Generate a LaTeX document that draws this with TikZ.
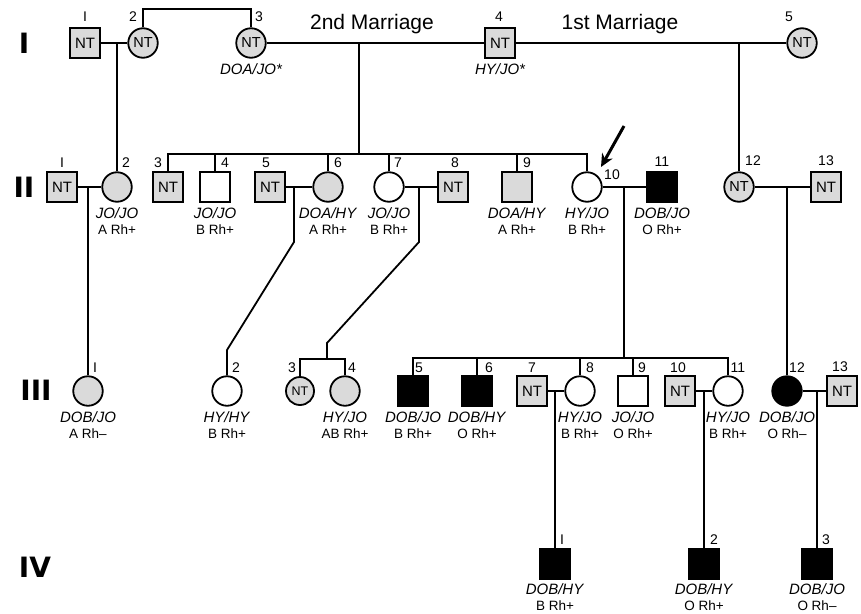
\documentclass[tikz,border=0pt]{standalone}
\usepackage{fontspec}
\setmainfont{Liberation Sans}
\newfontfamily\genfont{DejaVu Sans}
\usetikzlibrary{arrows.meta, positioning}
\definecolor{ntgray}{HTML}{DADADA}
\newcommand{\rh}[1]{{\fontsize{13.5}{16}\selectfont #1}}
\tikzset{
  sq/.style={
    draw, rectangle, line width=1.8pt, fill=#1,
    minimum size=29.5pt, inner sep=0pt,
    font=\fontsize{15}{15}\selectfont
  },
  sq/.default=white,
  ci/.style={
    draw, circle, line width=1.8pt, fill=#1,
    minimum size=29.5pt, inner sep=0pt,
    font=\fontsize{14.5}{14.5}\selectfont
  },
  ci/.default=white,
  ln/.style={line width=1.8pt},
  num/.style={font=\fontsize{14}{14}\selectfont, inner sep=0pt},
  geno/.style={font=\fontsize{15}{16}\selectfont, align=center, inner sep=0pt},
  gen/.style={font=\genfont\bfseries\fontsize{28}{28}\selectfont, inner sep=0pt},
  marr/.style={font=\fontsize{21}{21}\selectfont, inner sep=0pt},
}

\begin{document}
\begin{tikzpicture}[x=1pt, y=-1pt]
  \useasboundingbox (0,0) rectangle (861,613);

  % generations
  \node[gen] (g1) at (24,43) {I};
  \node[gen] (g2) at (24,187) {II};
  \node[gen] (g3) at (36,390) {III};
  \node[gen] (g4) at (35,567) {IV};

  % generation I
  \node[sq=ntgray] (i1) at (85,43) {NT};
  \node[ci=ntgray] (i2) at (143,43) {NT};
  \node[ci=ntgray] (i3) at (251,43) {NT};
  \node[sq=ntgray] (i4) at (500,43) {NT};
  \node[ci=ntgray] (i5) at (802,43) {NT};
  \node[num] (n-i1) at (85,17) {I};
  \node[num] (n-i2) at (133,17) {2};
  \node[num] (n-i3) at (259,17) {3};
  \node[num] (n-i4) at (499,17) {4};
  \node[num] (n-i5) at (789,17) {5};
  \node[geno, below=4.5pt of i3] (t-i3) {\itshape DOA/JO*};
  \node[geno, below=4.5pt of i4] (t-i4) {\itshape HY/JO*};
  \node[marr] (mar2) at (372,24) {2nd Marriage};
  \node[marr] (mar1) at (620,24) {1st Marriage};

  % generation II
  \node[sq=ntgray] (ii1) at (62,187) {NT};
  \node[ci=ntgray] (ii2) at (117,187) {};
  \node[sq=ntgray] (ii3) at (168,187) {NT};
  \node[sq] (ii4) at (215,187) {};
  \node[sq=ntgray] (ii5) at (270,187) {NT};
  \node[ci=ntgray] (ii6) at (328,187) {};
  \node[ci] (ii7) at (389,187) {};
  \node[sq=ntgray] (ii8) at (453,187) {NT};
  \node[sq=ntgray] (ii9) at (517,187) {};
  \node[ci] (ii10) at (587,187) {};
  \node[sq=black] (ii11) at (662,187) {};
  \node[ci=ntgray] (ii12) at (739,187) {NT};
  \node[sq=ntgray] (ii13) at (826,187) {NT};
  \node[num] (n-ii1) at (62,163) {I};
  \node[num] (n-ii2) at (126,163) {2};
  \node[num] (n-ii3) at (158,163) {3};
  \node[num] (n-ii4) at (225,163) {4};
  \node[num] (n-ii5) at (266,163) {5};
  \node[num] (n-ii6) at (338,163) {6};
  \node[num] (n-ii7) at (398,163) {7};
  \node[num] (n-ii8) at (455,163) {8};
  \node[num] (n-ii9) at (527,163) {9};
  \node[num] (n-ii10) at (612,175) {10};
  \node[num] (n-ii11) at (662,162) {11};
  \node[num] (n-ii12) at (753,161) {12};
  \node[num] (n-ii13) at (826,161) {13};
  \node[geno, below=4.5pt of ii2] (t-ii2) {\textit{JO/JO}\\\rh{A Rh+}};
  \node[geno, below=4.5pt of ii4] (t-ii4) {\textit{JO/JO}\\\rh{B Rh+}};
  \node[geno, below=4.5pt of ii6] (t-ii6) {\textit{DOA/HY}\\\rh{A Rh+}};
  \node[geno, below=4.5pt of ii7] (t-ii7) {\textit{JO/JO}\\\rh{B Rh+}};
  \node[geno, below=4.5pt of ii9] (t-ii9) {\textit{DOA/HY}\\\rh{A Rh+}};
  \node[geno, below=4.5pt of ii10] (t-ii10) {\textit{HY/JO}\\\rh{B Rh+}};
  \node[geno, below=4.5pt of ii11] (t-ii11) {\textit{DOB/JO}\\\rh{O Rh+}};

  % generation III
  \node[ci=ntgray] (iii1) at (88,391) {};
  \node[ci] (iii2) at (227,391) {};
  \node[ci=ntgray, minimum size=28pt, font=\fontsize{12.5}{12.5}\selectfont] (iii3) at (300,391) {NT};
  \node[ci=ntgray] (iii4) at (345,391) {};
  \node[sq=black] (iii5) at (413,391) {};
  \node[sq=black] (iii6) at (477,391) {};
  \node[sq=ntgray] (iii7) at (532,391) {NT};
  \node[ci] (iii8) at (580,391) {};
  \node[sq] (iii9) at (633,391) {};
  \node[sq=ntgray] (iii10) at (680,391) {NT};
  \node[ci] (iii11) at (728,391) {};
  \node[ci=black] (iii12) at (787,391) {};
  \node[sq=ntgray] (iii13) at (842,391) {NT};
  \node[num] (n-iii1) at (95,368) {I};
  \node[num] (n-iii2) at (236,368) {2};
  \node[num] (n-iii3) at (292,368) {3};
  \node[num] (n-iii4) at (352,368) {4};
  \node[num] (n-iii5) at (419,368) {5};
  \node[num] (n-iii6) at (489,368) {6};
  \node[num] (n-iii7) at (532,368) {7};
  \node[num] (n-iii8) at (590,368) {8};
  \node[num] (n-iii9) at (642,368) {9};
  \node[num] (n-iii10) at (678,368) {10};
  \node[num] (n-iii11) at (738,368) {11};
  \node[num] (n-iii12) at (797,368) {12};
  \node[num] (n-iii13) at (840,367) {13};
  \node[geno, below=4.5pt of iii1] (t-iii1) {\textit{DOB/JO}\\\rh{A Rh–}};
  \node[geno, below=4.5pt of iii2] (t-iii2) {\textit{HY/HY}\\\rh{B Rh+}};
  \node[geno, below=4.5pt of iii4] (t-iii4) {\textit{HY/JO}\\\rh{AB Rh+}};
  \node[geno, below=4.5pt of iii5] (t-iii5) {\textit{DOB/JO}\\\rh{B Rh+}};
  \node[geno, below=4.5pt of iii6] (t-iii6) {\textit{DOB/HY}\\\rh{O Rh+}};
  \node[geno, below=4.5pt of iii8] (t-iii8) {\textit{HY/JO}\\\rh{B Rh+}};
  \node[geno, below=4.5pt of iii9] (t-iii9) {\textit{JO/JO}\\\rh{O Rh+}};
  \node[geno, below=4.5pt of iii11] (t-iii11) {\textit{HY/JO}\\\rh{B Rh+}};
  \node[geno, below=4.5pt of iii12] (t-iii12) {\textit{DOB/JO}\\\rh{O Rh–}};

  % generation IV
  \node[sq=black] (iv1) at (555,564) {};
  \node[sq=black] (iv2) at (704,564) {};
  \node[sq=black] (iv3) at (817,564) {};
  \node[num] (n-iv1) at (562,540) {I};
  \node[num] (n-iv2) at (714,540) {2};
  \node[num] (n-iv3) at (826,540) {3};
  \node[geno, below=4pt of iv1] (t-iv1) {\textit{DOB/HY}\\\rh{B Rh+}};
  \node[geno, below=4pt of iv2] (t-iv2) {\textit{DOB/HY}\\\rh{O Rh+}};
  \node[geno, below=4pt of iv3] (t-iv3) {\textit{DOB/JO}\\\rh{O Rh–}};

  % couples and descent lines
  \coordinate (m-i12) at (117,43);
  \coordinate (m-i34) at (359,43);
  \coordinate (m-i45) at (739,43);
  \coordinate (sib2) at (359,154);
  \coordinate (m-ii12) at (88,187);
  \coordinate (m-ii56) at (294,187);
  \coordinate (k-ii56) at (294,242);
  \coordinate (k-iii2) at (227,350);
  \coordinate (m-ii78) at (419,187);
  \coordinate (k-ii78) at (419,242);
  \coordinate (k-tw) at (327,343);
  \coordinate (tw) at (327,359);
  \coordinate (m-ii1011) at (624,187);
  \coordinate (sib3) at (624,358);
  \coordinate (m-ii1213) at (787,187);
  \coordinate (m-iii78) at (555,391);
  \coordinate (m-iii1011) at (704,391);
  \coordinate (m-iii1213) at (817,391);
  \coordinate (proband) at (601,167);

  \draw[ln] (i1) -- (i2);
  \draw[ln] (i2.north) -- ++(0,-18) -| (i3.north);
  \draw[ln] (i3) -- (i4);
  \draw[ln] (i4) -- (i5);
  \draw[ln] (m-i12) -- (ii2);
  \draw[ln] (m-i34) -- (sib2);
  \draw[ln] (m-i45) -- (ii12);
  \draw[ln] (ii3.north) |- (sib2) -| (ii10.north);
  \draw[ln] (ii4.north) -- (ii4.north |- sib2);
  \draw[ln] (ii6.north) -- (ii6.north |- sib2);
  \draw[ln] (ii7.north) -- (ii7.north |- sib2);
  \draw[ln] (ii9.north) -- (ii9.north |- sib2);

  \draw[ln] (ii1) -- (ii2);
  \draw[ln] (ii5) -- (ii6);
  \draw[ln] (ii7) -- (ii8);
  \draw[ln] (ii10) -- (ii11);
  \draw[ln] (ii12) -- (ii13);
  \draw[ln] (m-ii12) -- (iii1);
  \draw[ln] (m-ii56) -- (k-ii56) -- (k-iii2) -- (iii2);
  \draw[ln] (m-ii78) -- (k-ii78) -- (k-tw) -- (tw);
  \draw[ln] (iii3.north) |- (tw) -| (iii4.north);
  \draw[ln] (m-ii1011) -- (sib3);
  \draw[ln] (iii5.north) |- (sib3) -| (iii11.north);
  \draw[ln] (iii6.north) -- (iii6.north |- sib3);
  \draw[ln] (iii8.north) -- (iii8.north |- sib3);
  \draw[ln] (iii9.north) -- (iii9.north |- sib3);
  \draw[ln] (m-ii1213) -- (iii12);

  \draw[ln] (iii7) -- (iii8);
  \draw[ln] (iii10) -- (iii11);
  \draw[ln] (iii12) -- (iii13);
  \draw[ln] (m-iii78) -- (iv1);
  \draw[ln] (m-iii1011) -- (iv2);
  \draw[ln] (m-iii1213) -- (iv3);

  % proband
  \draw[-{Stealth[length=13pt,width=12pt]}, line width=3pt] (624,126) -- (proband);
\end{tikzpicture}
\end{document}
